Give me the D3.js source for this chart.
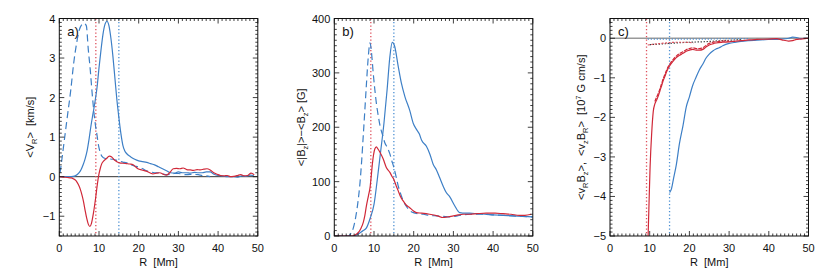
<!DOCTYPE html>
<meta charset="utf-8">
<title>Radial profiles</title>
<style>
  body { margin: 0; background: #fff; }
  svg text { font-family: "Liberation Sans", Arial, sans-serif; fill: #111; white-space: pre; }
  .frame { fill: none; stroke: #111; stroke-width: 1; }
  .tick { stroke: #111; stroke-width: 0.8; }
  .curve { fill: none; stroke-width: 1.2; }
</style>
<svg width="827" height="275"></svg>
<script src="https://cdn.jsdelivr.net/npm/d3@7"></script>
<script>
  // ---- data: [R (Mm), value] ----
  var rTicks = [0, 10, 20, 30, 40, 50];

  // a) <V_R> [km/s]
  var aTicks = [-1, 0, 1, 2, 3, 4];
  var aBlueSolid = [[0,0],[1,0],[2,0],[3,0],[4,0.02],[5,0.1],[5.5,0.18],[6,0.3],[6.5,0.45],[7,0.65],
    [7.5,0.95],[8,1.3],[8.5,1.6],[9,1.9],[9.5,2.25],[10,2.75],[10.5,3.2],[11,3.6],[11.5,3.85],[12,3.93],
    [12.5,3.82],[13,3.5],[13.5,3.05],[14,2.5],[14.5,1.95],[15,1.5],[15.5,1.1],[16,0.8],[16.5,0.65],[17,0.58],
    [18,0.5],[19,0.44],[20,0.4],[21,0.38],[22,0.36],[23,0.33],[24,0.3],[25,0.25],[26,0.2],[27,0.15],
    [28,0.1],[29,0.09],[30,0.12],[31,0.1],[32,0.1],[33,0.09],[34,0.11],[35,0.1],[36,0.1],[37,0.12],
    [38,0.12],[39,0.06],[40,0.03],[41,0.02],[42,0],[43,0],[44,0],[45,-0.01],[46,0.02],[47,0.01],[48,0.04],[49,0.03]];
  var aBlueDashed = [[0.2,0.1],[0.6,0.4],[1.2,0.87],[2,1.5],[2.9,2.2],[3.6,2.85],[4.4,3.4],[5,3.7],[5.7,3.85],
    [6.2,3.88],[6.8,3.82],[7.3,3.22],[7.8,2.7],[8.2,2.2],[8.6,1.75],[9,1.38],[9.5,1.05],[9.9,0.78],[10.3,0.62],
    [10.7,0.52],[11.6,0.46],[12.5,0.45],[13.5,0.44],[15,0.4],[16,0.37],[17,0.35],[18,0.3],[19,0.27],[20,0.24],
    [21,0.2],[22,0.15],[23,0.12],[24,0.1],[25,0.1],[26,0.07],[27,0.05],[28,0.06],[29,0.08],[30,0.08],[32,0.05],
    [34,0.06],[35,0.05],[36,0.03],[37,0.02],[38,0]];
  var aRedSolid = [[0,0],[1,-0.01],[2,-0.02],[3,-0.03],[3.5,-0.05],[4.2,-0.1],[4.8,-0.2],[5.3,-0.32],[5.7,-0.46],
    [6.1,-0.63],[6.5,-0.85],[6.9,-1.05],[7.3,-1.2],[7.7,-1.26],[8.1,-1.18],[8.6,-0.92],[9.2,-0.5],[9.6,-0.18],
    [9.9,0.02],[10.3,0.2],[10.7,0.33],[11.2,0.4],[11.8,0.45],[12.6,0.52],[13.2,0.5],[13.9,0.42],[14.5,0.38],
    [15.2,0.35],[16,0.34],[16.9,0.33],[17.8,0.32],[18.6,0.3],[19.2,0.25],[19.8,0.2],[20.8,0.17],[21.9,0.14],
    [22.8,0.1],[23.6,0.07],[24.5,0.09],[25.3,0.1],[26.2,0.06],[27,0.04],[27.8,0.1],[28.7,0.2],[29.5,0.21],
    [30.4,0.2],[31.2,0.22],[32.1,0.18],[33,0.17],[33.8,0.16],[34.7,0.18],[35.5,0.17],[36.4,0.19],[37.2,0.2],
    [38,0.17],[38.9,0.1],[39.8,0.06],[40.6,0.03],[41.5,0.02],[42.3,0.03],[43.2,0],[44,0.01],[44.9,0.03],
    [45.7,0.05],[46.6,0.02],[47.4,0.03],[48.3,0.09],[49.1,0.05]];

  // b) <|B_z|> - <B_z> [G]
  var bTicks = [0, 100, 200, 300, 400];
  var bBlueSolid = [[0,0],[4.8,0],[5.6,2],[6.5,6],[7.3,10],[8.1,15],[9.1,34],[10,58],[10.8,102],[11.6,151],
    [12.5,207],[13.3,269],[14,330],[14.6,356],[15.2,349],[16.1,312],[16.9,281],[17.8,256],[19,231],[19.9,207],
    [20.7,196],[21.4,188],[22,176],[23.2,165],[24.1,150],[24.9,132],[25.7,122],[26.5,108],[27.4,92],[28.2,80],
    [29.1,72],[30.3,56],[31.6,43],[33,42],[34.1,42],[36,41],[38,40],[40,39],[42.5,38],[45,37],[47.5,36],[50,35]];
  var bBlueDashed = [[0,0],[3.5,0],[4.2,5],[4.8,15],[5.4,35],[6,65],[6.5,100],[6.9,139],[7.3,185],[7.7,232],
    [8.1,280],[8.5,324],[9,355],[9.4,335],[9.8,300],[10.2,270],[10.6,244],[11.1,220],[11.6,200],[12.2,185],
    [12.7,172],[13.4,162],[14,151],[14.5,138],[15,126],[15.6,108],[16.1,92],[16.7,78],[17.3,66],[18,56],
    [18.6,50],[19.3,45],[19.9,43],[21,41],[22.4,40],[24,38],[25.7,37],[27.5,36],[29.1,35],[31,37],[34.1,40],
    [36,40],[38.3,40],[40,39],[42.5,38],[45,37],[47.5,36],[50,35]];
  var bRedSolid = [[0,0],[4.4,0],[5.2,2],[6,6],[6.7,14],[7.3,25],[7.7,38],[8.1,56],[8.6,74],[9,89],[9.3,110],
    [9.6,133],[9.9,150],[10.2,160],[10.6,164],[11,160],[11.5,154],[12.3,142],[13.1,126],[14,117],[14.5,110],
    [15,104],[15.6,92],[16.1,83],[16.7,72],[17.3,65],[18.1,57],[19,52],[19.8,47],[20.7,43],[22,42],[24,40],
    [26,37],[27.4,34],[28.5,35],[30.7,38],[32.5,40],[34.1,40],[36,41],[38.3,42],[40.5,42],[42.5,41],[44.5,40],
    [46.6,38],[48,38],[49.6,40]];

  // c) <v_R B_z>, <v_z B_R> [10^7 G cm/s]
  var cTicks = [-5, -4, -3, -2, -1, 0];
  var cRedSolid = [[9.6,-5],[9.85,-4.1],[10.1,-3.25],[10.5,-2.4],[10.9,-1.85],[11.3,-1.66],[11.7,-1.57],
    [12.2,-1.45],[12.6,-1.32],[13,-1.2],[13.4,-1.07],[13.8,-0.97],[14.2,-0.86],[14.6,-0.77],[15,-0.7],
    [15.8,-0.59],[16.7,-0.49],[17.5,-0.43],[18.4,-0.38],[19.2,-0.33],[20,-0.3],[20.8,-0.28],[21.7,-0.3],
    [22.5,-0.3],[23.4,-0.28],[24.2,-0.22],[25,-0.17],[25.9,-0.14],[26.7,-0.12],[28.4,-0.1],[30,-0.09],
    [31.7,-0.07],[33,-0.06],[35,-0.04],[37,-0.03],[40,-0.02],[42,-0.01],[43.3,-0.04],[45,-0.07],[46,-0.06],
    [47,-0.03],[48,-0.02],[49,-0.01],[50,0]];
  var cRedDashed = [[11.3,-1.6],[11.7,-1.5],[12.2,-1.39],[12.6,-1.27],[13,-1.15],[13.4,-1.02],[13.8,-0.92],
    [14.2,-0.82],[14.6,-0.73],[15,-0.66],[15.8,-0.55],[16.7,-0.45],[17.5,-0.39],[18.4,-0.34],[19.2,-0.29],
    [20,-0.26],[20.8,-0.24],[21.7,-0.26],[22.5,-0.26],[23.4,-0.24],[24.2,-0.18],[25,-0.13],[25.9,-0.1],
    [26.7,-0.09],[28.4,-0.07],[30,-0.07]];
  var cBlueSolid = [[15,-3.9],[15.5,-3.8],[16,-3.55],[16.7,-3.2],[17.5,-2.66],[18.4,-2.2],[19.2,-1.74],
    [20,-1.48],[20.8,-1.2],[21.7,-0.98],[22.5,-0.8],[23.4,-0.65],[24.2,-0.5],[25,-0.4],[25.9,-0.32],
    [26.7,-0.27],[27.5,-0.24],[28.4,-0.19],[30,-0.13],[31.7,-0.1],[33,-0.08],[35,-0.06],[38,-0.04],
    [40,-0.03],[43,-0.02],[45,0],[46,0.03],[47,0.02],[48,-0.01],[49,0],[50,0]];
  var cRedDotted = [[9.5,-0.17],[11,-0.15],[13,-0.13],[15,-0.11],[17,-0.1],[19,-0.1],[21,-0.12]];
  var cBlackDotted = [[10,-0.16],[12,-0.15],[15,-0.13],[18,-0.11],[20,-0.1],[23,-0.09],[25,-0.08],
    [28,-0.06],[30,-0.05],[33,-0.03]];
  var cBlueDotted = [[9.5,-0.02],[15,-0.02],[20,-0.02],[25,-0.02],[30,-0.01],[35,-0.01]];

  var rRedMark = 9.2, rBlueMark = 15;

  var blue = "#3d7fc6", red = "#d02838", lred = "#dd4e5a", lblue = "#4b8fd2";

  var panels = [
    { left: 59.3, label: "a)", yDomain: [-1.5, 4], yTicks: aTicks, yMinor: 0.1, zero: { color: "#333", width: 1 },
      yTitle: [["<V"], ["R", "sub"], [">  [km/s]"]], titleX: 34,
      series: [
        { data: aBlueDashed, color: blue, dash: "7,4" },
        { data: aBlueSolid, color: blue },
        { data: aRedSolid, color: red }
      ] },
    { left: 334.3, label: "b)", yDomain: [0, 400], yTicks: bTicks, yMinor: 10,
      yTitle: [["<|B"], ["z", "sub"], ["|>\u2212<B"], ["z", "sub"], ["> [G]"]], titleX: 305,
      series: [
        { data: bBlueDashed, color: blue, dash: "7,4" },
        { data: bBlueSolid, color: blue },
        { data: bRedSolid, color: red }
      ] },
    { left: 610, label: "c)", yDomain: [-5, 0.5], yTicks: cTicks, yMinor: 0.1, zero: { color: "#999", width: 1.6 },
      yTitle: [["<v"], ["R", "sub"], ["B"], ["z", "sub"], [">,  <v"], ["z", "sub"], ["B"], ["R", "sub"],
        [">  [10"], ["7", "sup"], [" G cm/s]"]], titleX: 585,
      series: [
        { data: cBlueDotted, color: lblue, dash: "1.2,1.8" },
        { data: cBlackDotted, color: "#222", dash: "1.2,1.8" },
        { data: cRedDotted, color: lred, dash: "2,1.5" },
        { data: cBlueSolid, color: blue },
        { data: cRedDashed, color: red, dash: "4,1" },
        { data: cRedSolid, color: red }
      ] }
  ];

  var svg = d3.select("svg"),
    yTop = 18.5, yBottom = 236, width = 198.5;

  panels.forEach(function(p, pi) {
    var x = d3.scaleLinear().domain([0, 50]).range([p.left, p.left + width]),
      y = d3.scaleLinear().domain(p.yDomain).range([yBottom, yTop]);

    var g = svg.append("g");

    g.append("clipPath").attr("id", "clip" + pi)
      .append("rect").attr("x", x(0)).attr("y", yTop).attr("width", width).attr("height", yBottom - yTop);

    var plot = g.append("g").attr("clip-path", "url(#clip" + pi + ")");

    // zero line
    if (p.zero) {
      plot.append("line")
        .attr("x1", x(0)).attr("x2", x(50)).attr("y1", y(0)).attr("y2", y(0))
        .attr("stroke", p.zero.color).attr("stroke-width", p.zero.width);
    }

    // vertical dotted markers
    [[rRedMark, lred], [rBlueMark, lblue]].forEach(function(m) {
      plot.append("line")
        .attr("x1", x(m[0])).attr("x2", x(m[0])).attr("y1", yTop).attr("y2", yBottom)
        .attr("stroke", m[1]).attr("stroke-width", 1.3).attr("stroke-dasharray", "1.3,2.2");
    });

    var line = d3.line()
      .x(function(d) { return x(d[0]); })
      .y(function(d) { return y(d[1]); })
      .curve(d3.curveMonotoneX);

    p.series.forEach(function(s) {
      plot.append("path")
        .attr("class", "curve")
        .attr("d", line(s.data))
        .attr("stroke", s.color)
        .attr("stroke-dasharray", s.dash || null);
    });

    // frame
    g.append("rect").attr("class", "frame")
      .attr("x", x(0)).attr("y", yTop).attr("width", width).attr("height", yBottom - yTop);

    // ticks on all four sides, pointing inwards
    var xMinor = d3.range(0, 50.001, 1),
      yMinor = d3.range(p.yDomain[0], p.yDomain[1] + 1e-6, p.yMinor);
    xMinor.forEach(function(v) {
      var major = rTicks.indexOf(Math.round(v)) >= 0 && Math.abs(v - Math.round(v)) < 1e-6,
        len = major ? 5 : 2.5;
      g.append("line").attr("class", "tick")
        .attr("x1", x(v)).attr("x2", x(v)).attr("y1", yBottom).attr("y2", yBottom - len);
      g.append("line").attr("class", "tick")
        .attr("x1", x(v)).attr("x2", x(v)).attr("y1", yTop).attr("y2", yTop + len);
    });
    yMinor.forEach(function(v) {
      var major = p.yTicks.some(function(t) { return Math.abs(t - v) < 1e-6; }),
        len = major ? 5 : 2.5;
      g.append("line").attr("class", "tick")
        .attr("x1", x(0)).attr("x2", x(0) + len).attr("y1", y(v)).attr("y2", y(v));
      g.append("line").attr("class", "tick")
        .attr("x1", x(50)).attr("x2", x(50) - len).attr("y1", y(v)).attr("y2", y(v));
    });

    // tick labels
    g.selectAll(".xl").data(rTicks).enter().append("text")
      .attr("x", function(d) { return x(d); }).attr("y", 252)
      .attr("text-anchor", "middle").attr("font-size", 11)
      .text(function(d) { return d; });
    g.selectAll(".yl").data(p.yTicks).enter().append("text")
      .attr("x", x(0) - 4).attr("y", function(d) { return y(d) + 4; })
      .attr("text-anchor", "end").attr("font-size", 11)
      .text(function(d) { return d < 0 ? "\u2212" + (-d) : d; });

    // titles
    g.append("text")
      .attr("x", x(25)).attr("y", 266)
      .attr("text-anchor", "middle").attr("font-size", 11)
      .text("R  [Mm]");

    var t = g.append("text")
      .attr("transform", "translate(" + p.titleX + "," + ((yTop + yBottom) / 2) + ") rotate(-90)")
      .attr("text-anchor", "middle").attr("font-size", 11);
    var shift = 0;
    p.yTitle.forEach(function(part) {
      var dy = 0, size = 11;
      if (part[1] === "sub") { dy = 2.5 - shift; shift = 2.5; size = 7.5; }
      else if (part[1] === "sup") { dy = -4 - shift; shift = -4; size = 7.5; }
      else { dy = -shift; shift = 0; }
      t.append("tspan").attr("dy", dy).attr("font-size", size).text(part[0]);
    });

    g.append("text")
      .attr("x", x(0) + 8).attr("y", yTop + 17)
      .attr("font-size", 13)
      .text(p.label);
  });
</script>
